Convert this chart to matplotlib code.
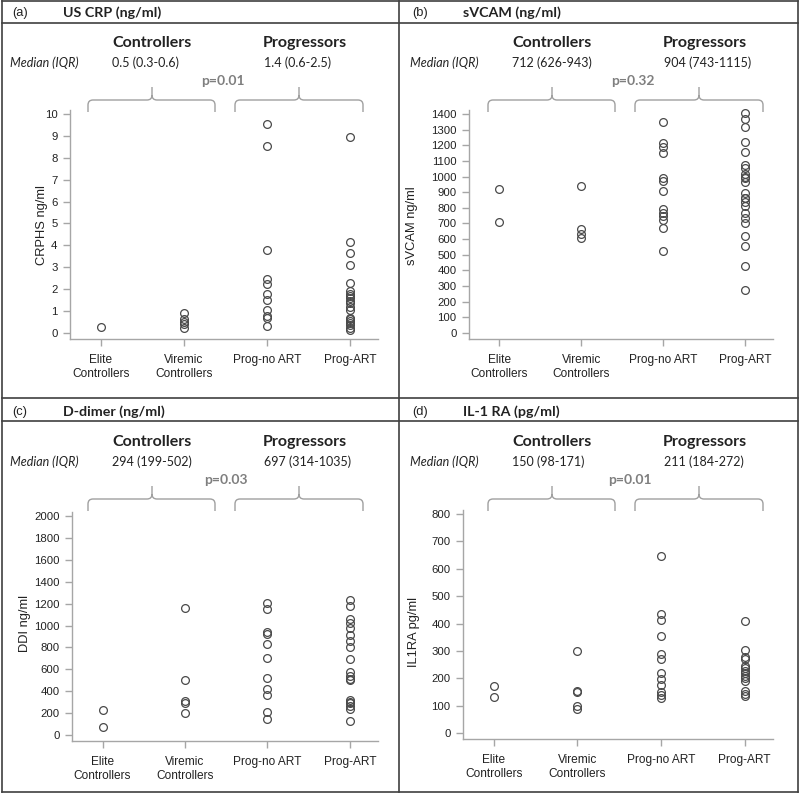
import matplotlib
matplotlib.use("Agg")
import matplotlib.pyplot as plt
from matplotlib.path import Path
from matplotlib.patches import PathPatch
from matplotlib.lines import Line2D

# ---------------- data ----------------
categories = ["Elite\nControllers", "Viremic\nControllers", "Prog-no ART", "Prog-ART"]

a_elite = [0.28]
a_viremic = [0.92, 0.62, 0.52, 0.42, 0.25]
a_prog_noart = [9.55, 8.55, 3.8, 2.45, 2.22, 1.78, 1.5, 1.05, 0.78, 0.68, 0.32]
a_prog_art = [8.93, 4.17, 3.64, 3.1, 2.3, 1.9, 1.8, 1.7, 1.58, 1.45, 1.35, 1.2, 1.05,
              0.7, 0.62, 0.55, 0.45, 0.35, 0.25, 0.15]

b_elite = [918, 712]
b_viremic = [942, 667, 631, 609]
b_prog_noart = [1349, 1216, 1186, 1152, 990, 971, 908, 790, 770, 749, 720, 669, 525]
b_prog_art = [1404, 1371, 1315, 1220, 1157, 1076, 1053, 1016, 1000, 989, 967, 893, 865,
              861, 839, 812, 765, 737, 705, 621, 553, 430, 278]

c_elite = [228, 76]
c_viremic = [1157, 502, 314, 295, 201]
c_prog_noart = [1208, 1150, 944, 920, 830, 706, 521, 420, 368, 210, 145]
c_prog_art = [1230, 1182, 1056, 1020, 973, 915, 858, 802, 692, 572, 540, 512, 500,
              323, 305, 290, 268, 240, 130]

d_elite = [170, 132]
d_viremic = [300, 153, 150, 100, 87]
d_prog_noart = [647, 434, 412, 354, 289, 270, 218, 196, 175, 148, 138, 128]
d_prog_art = [408, 302, 279, 271, 244, 236, 228, 220, 210, 200, 190, 152, 143, 135]

letters = ["(a)", "(b)", "(c)", "(d)"]
titles = ["US CRP (ng/ml)", "sVCAM (ng/ml)", "D-dimer (ng/ml)", "IL-1 RA (pg/ml)"]
ctrl_med = ["0.5 (0.3-0.6)", "712 (626-943)", "294 (199-502)", "150 (98-171)"]
prog_med = ["1.4 (0.6-2.5)", "904 (743-1115)", "697 (314-1035)", "211 (184-272)"]
pvals = ["p=0.01", "p=0.32", "p=0.03", "p=0.01"]
ylabels = ["CRPHS ng/ml", "sVCAM ng/ml", "DDI ng/ml", "IL1RA pg/ml"]
ytick_max = [10, 1400, 2000, 800]
ytick_step = [1, 100, 200, 100]

panel_data = [
    [a_elite, a_viremic, a_prog_noart, a_prog_art],
    [b_elite, b_viremic, b_prog_noart, b_prog_art],
    [c_elite, c_viremic, c_prog_noart, c_prog_art],
    [d_elite, d_viremic, d_prog_noart, d_prog_art],
]

# ---------------- layout (pixels) ----------------
W, H = 800, 794
fig = plt.figure(figsize=(W / 100, H / 100), dpi=100)

def fx(x):
    return x / W

def fy(y):
    return 1 - y / H

# axes: left, right, y of zero tick, y of top tick
ax_px = [(70, 378, 333, 114), (469, 773, 333, 114),
         (72, 378, 735, 516), (463, 773, 733, 514)]
offsets = [(0, 0), (400, 0), (0, 399), (400, 399)]
ylabel_pos = [(48, 225), (418, 226), (31, 623), (420, 632)]
p_x = [223, 233, 226, 230]

AX_FONT = "Liberation Sans"
HD_FONT = "Lato"
axis_col = "#a6a6a6"
txt_col = "#222222"
mk_col = "#4a4a4a"

xlim = (-0.37, 3.34)

def brace(x0, x1, xt, yb, yl, yt, r=5):
    pts = [(x0, yb), (x0, yl + r), (x0, yl), (x0 + r, yl),
           (xt - r, yl), (xt, yl), (xt, yl - r), (xt, yt),
           (xt, yl - r), (xt, yl), (xt + r, yl),
           (x1 - r, yl), (x1, yl), (x1, yl + r), (x1, yb)]
    codes = [Path.MOVETO, Path.LINETO, Path.CURVE3, Path.CURVE3,
             Path.LINETO, Path.CURVE3, Path.CURVE3, Path.LINETO,
             Path.MOVETO, Path.CURVE3, Path.CURVE3,
             Path.LINETO, Path.CURVE3, Path.CURVE3, Path.LINETO]
    verts = [(fx(x), fy(y)) for x, y in pts]
    p = Path(verts, codes)
    fig.add_artist(PathPatch(p, transform=fig.transFigure, fill=False,
                             edgecolor="#a0a0a0", lw=1.0))

for i in range(4):
    l, r, y0, yT = ax_px[i]
    ox, oy = offsets[i]
    top = yT - 4
    bot = y0 + 6
    ax = fig.add_axes([fx(l), fy(bot), (r - l) / W, (bot - top) / H])
    T = ytick_max[i]
    upp = T / (y0 - yT)
    ax.set_ylim(-6 * upp, T + 4 * upp)
    ax.set_xlim(*xlim)
    for k, vals in enumerate(panel_data[i]):
        ax.plot([k] * len(vals), vals, linestyle="none", marker="o",
                markersize=5.6, markerfacecolor="none",
                markeredgecolor=mk_col, markeredgewidth=0.9, clip_on=False)
    ax.set_xticks(range(4))
    ax.set_xticklabels(categories, fontfamily=AX_FONT, fontsize=8.6,
                       color=txt_col, linespacing=1.15)
    yt = list(range(0, T + 1, ytick_step[i]))
    ax.set_yticks(yt)
    ax.set_yticklabels([str(v) for v in yt], fontfamily=AX_FONT, fontsize=8.2,
                       color=txt_col)
    for s in ["top", "right"]:
        ax.spines[s].set_visible(False)
    for s in ["left", "bottom"]:
        ax.spines[s].set_color(axis_col)
        ax.spines[s].set_linewidth(1.0)
    ax.tick_params(axis="both", direction="out", length=5, width=1.0,
                   color=axis_col, pad=4)
    ax.tick_params(axis="x", pad=6)
    ax.patch.set_alpha(0)
    ax.set_ylabel(ylabels[i], fontfamily=AX_FONT, fontsize=9.3, color=txt_col)
    lx, ly = ylabel_pos[i]
    ax.yaxis.set_label_coords(fx(lx), fy(ly), transform=fig.transFigure)

    # header texts
    fig.text(fx(ox + 12), fy(oy + 13), letters[i], fontfamily=AX_FONT,
             fontsize=9.3, color=txt_col, ha="left", va="center")
    fig.text(fx(ox + 63), fy(oy + 13), titles[i], fontfamily=HD_FONT,
             fontsize=10.3, fontweight="bold", color=txt_col, ha="left", va="center")
    fig.text(fx(ox + 152), fy(oy + 43), "Controllers", fontfamily=HD_FONT,
             fontsize=11.5, fontweight="bold", color=txt_col, ha="center", va="center")
    fig.text(fx(ox + 305), fy(oy + 43), "Progressors", fontfamily=HD_FONT,
             fontsize=11.5, fontweight="bold", color=txt_col, ha="center", va="center")
    fig.text(fx(ox + 10), fy(oy + 63), "Median (IQR)", fontfamily=HD_FONT,
             fontsize=9, fontstyle="italic", color=txt_col, ha="left", va="center")
    fig.text(fx(ox + 112), fy(oy + 63), ctrl_med[i], fontfamily=HD_FONT,
             fontsize=9, color=txt_col, ha="left", va="center")
    fig.text(fx(ox + 264), fy(oy + 63), prog_med[i], fontfamily=HD_FONT,
             fontsize=9, color=txt_col, ha="left", va="center")
    fig.text(fx(ox + p_x[i]), fy(oy + 81), pvals[i], fontfamily=HD_FONT,
             fontsize=10, fontweight="bold", color="#7f7f7f", ha="center", va="center")

    by = oy + 1
    brace(ox + 88, ox + 215, ox + 152, by + 111, by + 99, by + 86)
    brace(ox + 235, ox + 363, ox + 299, by + 111, by + 99, by + 86)

# borders
bc = "#404040"
def hline(y, x0, x1):
    fig.add_artist(Line2D([fx(x0), fx(x1)], [fy(y), fy(y)], color=bc, lw=1.2,
                          transform=fig.transFigure))
def vline(x, y0, y1):
    fig.add_artist(Line2D([fx(x), fx(x)], [fy(y0), fy(y1)], color=bc, lw=1.2,
                          transform=fig.transFigure))

hline(1, 2, 798)
hline(792, 2, 798)
hline(398, 2, 798)
hline(23, 2, 798)
hline(421, 2, 798)
vline(2, 1, 792)
vline(798, 1, 792)
vline(399, 1, 792)

fig.savefig("out.png", dpi=100)
